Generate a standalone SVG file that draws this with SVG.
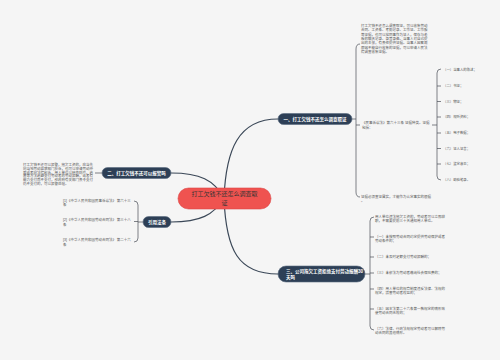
<svg xmlns="http://www.w3.org/2000/svg" width="500" height="360" viewBox="0 0 500 360">
<style>
text{font-family:"Liberation Sans","Noto Sans CJK SC",sans-serif}
.main{fill:none;stroke:#3b4858;stroke-width:1.2}
.sub{fill:none;stroke:#4a4f57;stroke-width:0.7}
.br{fill:#2d3f56;stroke:#5a6b80;stroke-width:0.6}
.bt{fill:#fff;font-size:4.5px;font-weight:bold}
.t{fill:#555;font-size:3.5px}
.ti{fill:#555;font-size:3.4px}
</style>
<rect width="500" height="360" fill="#f5f5f5"/>
<g id="connectors">
<path class="main" d="M224,198 C226,150 238,119 278,119"/>
<path class="main" d="M224,198 C214,180 200,173 171,173"/>
<path class="main" d="M224,198 C214,215 200,222 171,222"/>
<path class="main" d="M224,198 C226,250 238,274 278,274"/>
<path class="sub" d="M352,119 H356 M360,44 Q356,44 356,49 V192 Q356,197 360,197 M356,125 H360"/>
<path class="sub" d="M432,125 H437 M441,69 Q437,69 437,73 V176 Q437,180 441,180 M437,86 H441 M437,101.5 H441 M437,117 H441 M437,133 H441 M437,148.5 H441 M437,164 H441"/>
<path class="sub" d="M365,274 H370 M374,217 Q370,217 370,221 V326 Q370,330 374,330 M370,237 H374 M370,257 H374 M370,273 H374 M370,289 H374 M370,309 H374"/>
<path class="sub" d="M95,173 H102"/>
<path class="sub" d="M143,222 H138 M134,201 Q138,201 138,205 V238 Q138,242 134,242 M138,221.5 H134"/>
</g>
<g id="center">
<rect x="178" y="188" width="93" height="21" rx="10.5" fill="#ef5350" stroke="#dc4444" stroke-width="0.6"/>
<text x="224.5" y="196.3" font-size="6" fill="#333" text-anchor="middle">打工欠钱不还怎么调查取</text>
<text x="224.5" y="204.5" font-size="6" fill="#333" text-anchor="middle">证</text>
</g>
<g id="b1">
<rect class="br" x="278" y="113.5" width="74" height="11" rx="5.5"/>
<text class="bt" x="315" y="120.6" text-anchor="middle">一、打工欠钱不还怎么调查取证</text>
</g>
<g id="b1-text">
<text class="t" x="361" y="27"><tspan x="361">打工欠钱不还怎么调查取证，可以收集劳动</tspan><tspan x="361" dy="4.3">合同、工资条、考勤记录、工作证、工作服</tspan><tspan x="361" dy="4.3">等证据，也可以找同事作为证人，保存与老</tspan><tspan x="361" dy="4.3">板的聊天记录、录音录像。当事人对自己提</tspan><tspan x="361" dy="4.3">出的主张，有责任提供证据。当事人因客观</tspan><tspan x="361" dy="4.3">原因不能自行收集的证据，可以申请人民法</tspan><tspan x="361" dy="4.3">院调查收集证据。</tspan></text>
</g>
<g id="b1-law">
<text class="t" x="362" y="124"><tspan x="362">《民事诉讼法》第六十三条 证据种类。证据</tspan><tspan x="362" dy="4.8">包括：</tspan></text>
</g>
<g id="b1-items">
<text class="ti" x="443" y="71">（一）当事人的陈述；</text>
<text class="ti" x="443" y="87">（二）书证；</text>
<text class="ti" x="443" y="102.5">（三）物证；</text>
<text class="ti" x="443" y="118">（四）视听资料；</text>
<text class="ti" x="443" y="134">（五）电子数据；</text>
<text class="ti" x="443" y="149.5">（六）证人证言；</text>
<text class="ti" x="443" y="165">（七）鉴定意见；</text>
<text class="ti" x="443" y="181">（八）勘验笔录。</text>
</g>
<g id="b1-end">
<text class="t" x="361" y="197.5"><tspan x="361">证据必须查证属实，才能作为认定事实的根据</tspan><tspan x="361" dy="4.6">。</tspan></text>
</g>
<g id="b2">
<rect class="br" x="102" y="167.5" width="69" height="11" rx="5.5"/>
<text class="bt" x="136.5" y="174.6" text-anchor="middle">二、打工欠钱不还可以报警吗</text>
</g>
<g id="b2-text">
<text class="t" x="23" y="166"><tspan x="23">打工欠钱不还可以报警，拖欠工资的，应当先</tspan><tspan x="23" dy="3.8">向当地劳动监察部门投诉，也可以申请劳动仲</tspan><tspan x="23" dy="3.8">裁或者向法院起诉。用人单位以转移财产、逃</tspan><tspan x="23" dy="3.8">匿等方法逃避支付劳动者的劳动报酬，或者有</tspan><tspan x="23" dy="3.8">能力支付而不支付，经政府有关部门责令支付</tspan><tspan x="23" dy="3.8">仍不支付的，可以报警处理。</tspan></text>
</g>
<g id="ref">
<rect class="br" x="143" y="216.5" width="28" height="11" rx="5.5"/>
<text class="bt" x="157" y="223.6" text-anchor="middle">引用法条</text>
</g>
<g id="ref-items">
<text class="t" x="63" y="201.5"><tspan x="63">[1]《中华人民共和国民事诉讼法》 第六十三</tspan><tspan x="63" dy="4.5">条</tspan></text>
<text class="t" x="63" y="221"><tspan x="63">[2]《中华人民共和国劳动合同法》 第三十八</tspan><tspan x="63" dy="4.5">条</tspan></text>
<text class="t" x="63" y="241"><tspan x="63">[3]《中华人民共和国劳动合同法》 第二十六</tspan><tspan x="63" dy="4.5">条</tspan></text>
</g>
<g id="b3">
<rect class="br" x="278" y="266" width="87" height="16" rx="8"/>
<text class="bt" x="286" y="273.3" font-size="4.2">三、公司拖欠工资拒绝支付劳动报酬30</text>
<text class="bt" x="286" y="279.3" font-size="4.2">天吗</text>
</g>
<g id="b3-items">
<text class="t" x="375" y="218"><tspan x="375">用人单位违法拖欠工资的，劳动者可以立即辞</tspan><tspan x="375" dy="4.4">职，不需要提前三十天通知用人单位。</tspan></text>
<text class="t" x="375" y="238"><tspan x="375">（一）未按照劳动合同约定提供劳动保护或者</tspan><tspan x="375" dy="4.4">劳动条件的；</tspan></text>
<text class="t" x="375" y="258">（二）未及时足额支付劳动报酬的；</text>
<text class="t" x="375" y="274">（三）未依法为劳动者缴纳社会保险费的；</text>
<text class="t" x="375" y="290"><tspan x="375">（四）用人单位的规章制度违反法律、法规的</tspan><tspan x="375" dy="4.4">规定，损害劳动者权益的；</tspan></text>
<text class="t" x="375" y="310"><tspan x="375">（五）因本法第二十六条第一款规定的情形致</tspan><tspan x="375" dy="4.4">使劳动合同无效的；</tspan></text>
<text class="t" x="375" y="330"><tspan x="375">（六）法律、行政法规规定劳动者可以解除劳</tspan><tspan x="375" dy="4.4">动合同的其他情形。</tspan></text>
</g>
</svg>
